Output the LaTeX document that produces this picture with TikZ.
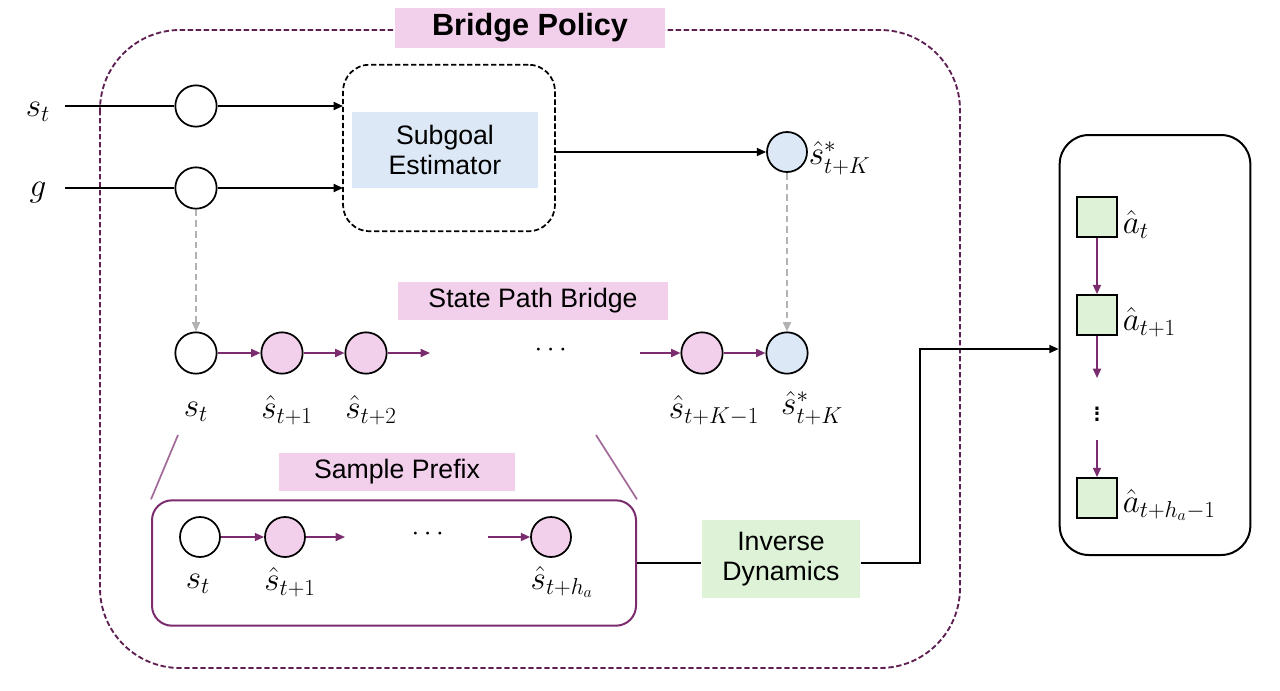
\documentclass[tikz,border=0pt]{standalone}
\usepackage{fontspec}
\setmainfont{Liberation Sans}
\usepackage{amsmath}
\usetikzlibrary{arrows.meta}
\definecolor{dpurp}{HTML}{5E1F52}
\definecolor{mpurp}{HTML}{7A2C6E}
\definecolor{pinkf}{HTML}{F2D0EC}
\definecolor{bluef}{HTML}{DCE8F5}
\definecolor{greenf}{HTML}{DDF2D6}
\tikzset{
 every path/.style={line width=1.3pt},
 st/.style={circle,draw,line width=1.3pt,minimum size=40pt,inner sep=0pt,fill=white},
 stp/.style={st,fill=pinkf},
 stb/.style={st,fill=bluef},
 lbl/.style={font=\fontsize{20}{22}\selectfont,inner sep=4pt},
 ml/.style={font=\fontsize{25}{27}\selectfont,inner sep=0pt},
 parr/.style={mpurp,line width=1.3pt,-{Triangle[length=7pt,width=6pt]}},
 barr/.style={black,line width=1.3pt,-{Triangle[length=7pt,width=6pt]}},
 garr/.style={gray!60,line width=1.3pt,dash pattern=on 5pt off 3pt,-{Triangle[length=7pt,width=6pt]}},
 sq/.style={draw,line width=1.3pt,fill=greenf,minimum size=30pt,inner sep=0pt},
}
\begin{document}
\begin{tikzpicture}[x=0.75pt,y=-0.75pt]
\useasboundingbox (0,0) rectangle (1280,690);
% outer
\draw[dpurp,line width=1.4pt,dash pattern=on 4pt off 2pt,rounded corners=60pt] (100,30) rectangle (960,668);
\node[lbl,fill=pinkf,font=\fontsize{23}{25}\selectfont\bfseries,minimum width=202pt,minimum height=30pt] (bp) at (530,28) {Bridge Policy};
% inputs
\node[ml] (sin) at (38,112) {$s_t$};
\node[ml] (gin) at (38,193) {$g$};
\node[draw,line width=1.3pt,dash pattern=on 4pt off 2pt,rounded corners=20pt,minimum width=159pt,minimum height=125pt] (se) at (449,148) {};
\node[lbl,fill=bluef,minimum width=139pt,minimum height=57pt,align=center] (sel) at (445,150) {Subgoal\\Estimator};
\node[st,minimum size=31pt] (c1) at (196,106) {};
\node[st,minimum size=31pt] (c2) at (196,188) {};
\draw (65,106) -- (c1);
\draw (65,188) -- (c2);
\draw[barr] (c1) -- (343,106);
\draw[barr] (c2) -- (343,188);
\node[stb,minimum size=30pt] (sg) at (787,152) {};
\node[ml,anchor=west] (sgl) at (808,158) {$\hat{s}^*_{t+K}$};
\draw[barr] (se.east |- 0,152) -- (sg);
% state path bridge
\node[lbl,fill=pinkf,minimum width=202pt,minimum height=28pt] (spb) at (533,301) {State Path Bridge};
\node[st,minimum size=31pt] (b0) at (196,353) {};
\node[stp,minimum size=31pt] (b1) at (282,353) {};
\node[stp,minimum size=31pt] (b2) at (366,353) {};
\coordinate (b2e) at (430,353);
\node[ml,font=\fontsize{22}{24}\selectfont] (bd) at (553,350) {$\cdots$};
\coordinate (bks) at (640,353);
\node[stp,minimum size=31pt] (bk1) at (702,353) {};
\node[stb,minimum size=31pt] (bk) at (787,353) {};
\draw[garr] (c2) -- (b0);
\draw[garr] (sg) -- (bk);
\draw[parr] (b0) -- (b1);
\draw[parr] (b1) -- (b2);
\draw[parr] (b2) -- (b2e);
\draw[parr] (bks) -- (bk1);
\draw[parr] (bk1) -- (bk);
\node[ml] (l0) at (196,412) {$s_t$};
\node[ml] (l1) at (287,410) {$\hat{s}_{t+1}$};
\node[ml] (l2) at (371,410) {$\hat{s}_{t+2}$};
\node[ml] (lk1) at (714,410) {$\hat{s}_{t+K-1}$};
\node[ml] (lk) at (812,408) {$\hat{s}^*_{t+K}$};
% sample prefix
\node[draw=mpurp,line width=1.5pt,rounded corners=15pt,minimum width=363pt,minimum height=94pt] (spbox) at (394,563) {};
\draw[mpurp!70] (178,435) -- (spbox.north west);
\draw[mpurp!70] (596,435) -- (spbox.north east);
\node[lbl,fill=pinkf,minimum width=177pt,minimum height=29pt] (spl) at (397,472) {Sample Prefix};
\node[st,minimum size=30pt] (p0) at (200,537) {};
\node[stp,minimum size=30pt] (p1) at (285,537) {};
\coordinate (p1e) at (345,537);
\node[ml,font=\fontsize{22}{24}\selectfont] (pd) at (430,534) {$\cdots$};
\coordinate (pks) at (488,537);
\node[stp,minimum size=30pt] (pk) at (551,537) {};
\draw[parr] (p0) -- (p1);
\draw[parr] (p1) -- (p1e);
\draw[parr] (pks) -- (pk);
\node[ml] (pl0) at (198,584) {$s_t$};
\node[ml] (pl1) at (290,582) {$\hat{s}_{t+1}$};
\node[ml] (plk) at (562,582) {$\hat{s}_{t+h_a}$};
% inverse dynamics
\node[lbl,fill=greenf,minimum width=118pt,minimum height=58pt,align=center] (inv) at (781,559) {Inverse\\Dynamics};
\draw (spbox.east |- 0,563) -- (inv.west |- 0,563);
% right box
\node[draw,line width=1.5pt,rounded corners=22pt,minimum width=143pt,minimum height=315pt] (rb) at (1155,345) {};
\coordinate (tgt) at (rb.west |- 0,349);
\draw[barr] (inv.east |- 0,563) -- (920,563) -- (920,349) -- (tgt);
\node[sq] (a0) at (1097,217) {};
\node[sq] (a1) at (1097,315) {};
\node[sq] (a2) at (1097,498) {};
\node[ml,anchor=west] (al0) at (1122,224) {$\hat{a}_t$};
\node[ml,anchor=west] (al1) at (1122,322) {$\hat{a}_{t+1}$};
\node[ml,anchor=west] (al2) at (1122,505) {$\hat{a}_{t+h_a-1}$};
\node[ml,font=\fontsize{24}{26}\selectfont] (ad) at (1097,410) {$\vdots$};
\coordinate (ad1) at (1097,378);
\coordinate (ad2) at (1097,440);
\draw[parr] (a0) -- (a1);
\draw[parr] (a1) -- (ad1);
\draw[parr] (ad2) -- (a2);
\end{tikzpicture}
\end{document}
